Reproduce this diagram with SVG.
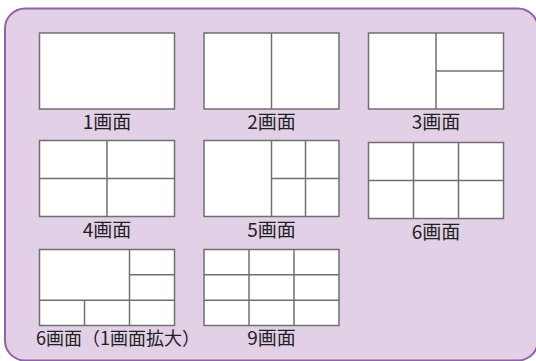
<svg xmlns="http://www.w3.org/2000/svg" width="536" height="361" viewBox="0 0 536 361">
<style>
.cell{fill:#ffffff;stroke:#707070;stroke-width:1.5}
.div{stroke:#707070;stroke-width:1.5;fill:none}
.lbl{font-family:"Noto Sans CJK JP","Noto Sans",sans-serif;font-size:19px;fill:#222222;text-anchor:middle}
</style>
<rect x="5" y="8.5" width="533" height="352" rx="20" ry="20" fill="#e1d0e6" stroke="#9161ac" stroke-width="2"/>
<g id="layout1">
<rect class="cell" x="39.5" y="33" width="135" height="76"/>
<text class="lbl" x="107" y="128.5">1画面</text>
</g>
<g id="layout2">
<rect class="cell" x="204" y="33" width="135" height="76"/>
<line class="div" x1="271.5" y1="33" x2="271.5" y2="109"/>
<text class="lbl" x="271.5" y="128.5">2画面</text>
</g>
<g id="layout3">
<rect class="cell" x="368.5" y="33" width="135" height="76"/>
<line class="div" x1="436" y1="33" x2="436" y2="109"/>
<line class="div" x1="436" y1="71" x2="503.5" y2="71"/>
<text class="lbl" x="436" y="128.5">3画面</text>
</g>
<g id="layout4">
<rect class="cell" x="39.5" y="140.5" width="135" height="76"/>
<line class="div" x1="107" y1="140.5" x2="107" y2="216.5"/>
<line class="div" x1="39.5" y1="178.5" x2="174.5" y2="178.5"/>
<text class="lbl" x="107" y="236.5">4画面</text>
</g>
<g id="layout5">
<rect class="cell" x="204" y="140.5" width="135" height="76"/>
<line class="div" x1="271.5" y1="140.5" x2="271.5" y2="216.5"/>
<line class="div" x1="305.5" y1="140.5" x2="305.5" y2="216.5"/>
<line class="div" x1="271.5" y1="178.5" x2="339" y2="178.5"/>
<text class="lbl" x="271.5" y="236.5">5画面</text>
</g>
<g id="layout6">
<rect class="cell" x="368.5" y="142.5" width="135" height="76"/>
<line class="div" x1="413.5" y1="142.5" x2="413.5" y2="218.5"/>
<line class="div" x1="458.5" y1="142.5" x2="458.5" y2="218.5"/>
<line class="div" x1="368.5" y1="180.5" x2="503.5" y2="180.5"/>
<text class="lbl" x="436" y="238.5">6画面</text>
</g>
<g id="layout6x">
<rect class="cell" x="39.5" y="249.5" width="135" height="76"/>
<line class="div" x1="129.5" y1="249.5" x2="129.5" y2="325.5"/>
<line class="div" x1="129.5" y1="274.8" x2="174.5" y2="274.8"/>
<line class="div" x1="39.5" y1="300.2" x2="174.5" y2="300.2"/>
<line class="div" x1="84.5" y1="300.2" x2="84.5" y2="325.5"/>
<text class="lbl" x="36" y="344.5" style="text-anchor:start;font-size:18px">6画面（1画面拡大）</text>
</g>
<g id="layout9">
<rect class="cell" x="204" y="249.5" width="135" height="76"/>
<line class="div" x1="249" y1="249.5" x2="249" y2="325.5"/>
<line class="div" x1="294" y1="249.5" x2="294" y2="325.5"/>
<line class="div" x1="204" y1="274.8" x2="339" y2="274.8"/>
<line class="div" x1="204" y1="300.2" x2="339" y2="300.2"/>
<text class="lbl" x="271.5" y="344.5">9画面</text>
</g>
<g id="connectors"></g>
</svg>
